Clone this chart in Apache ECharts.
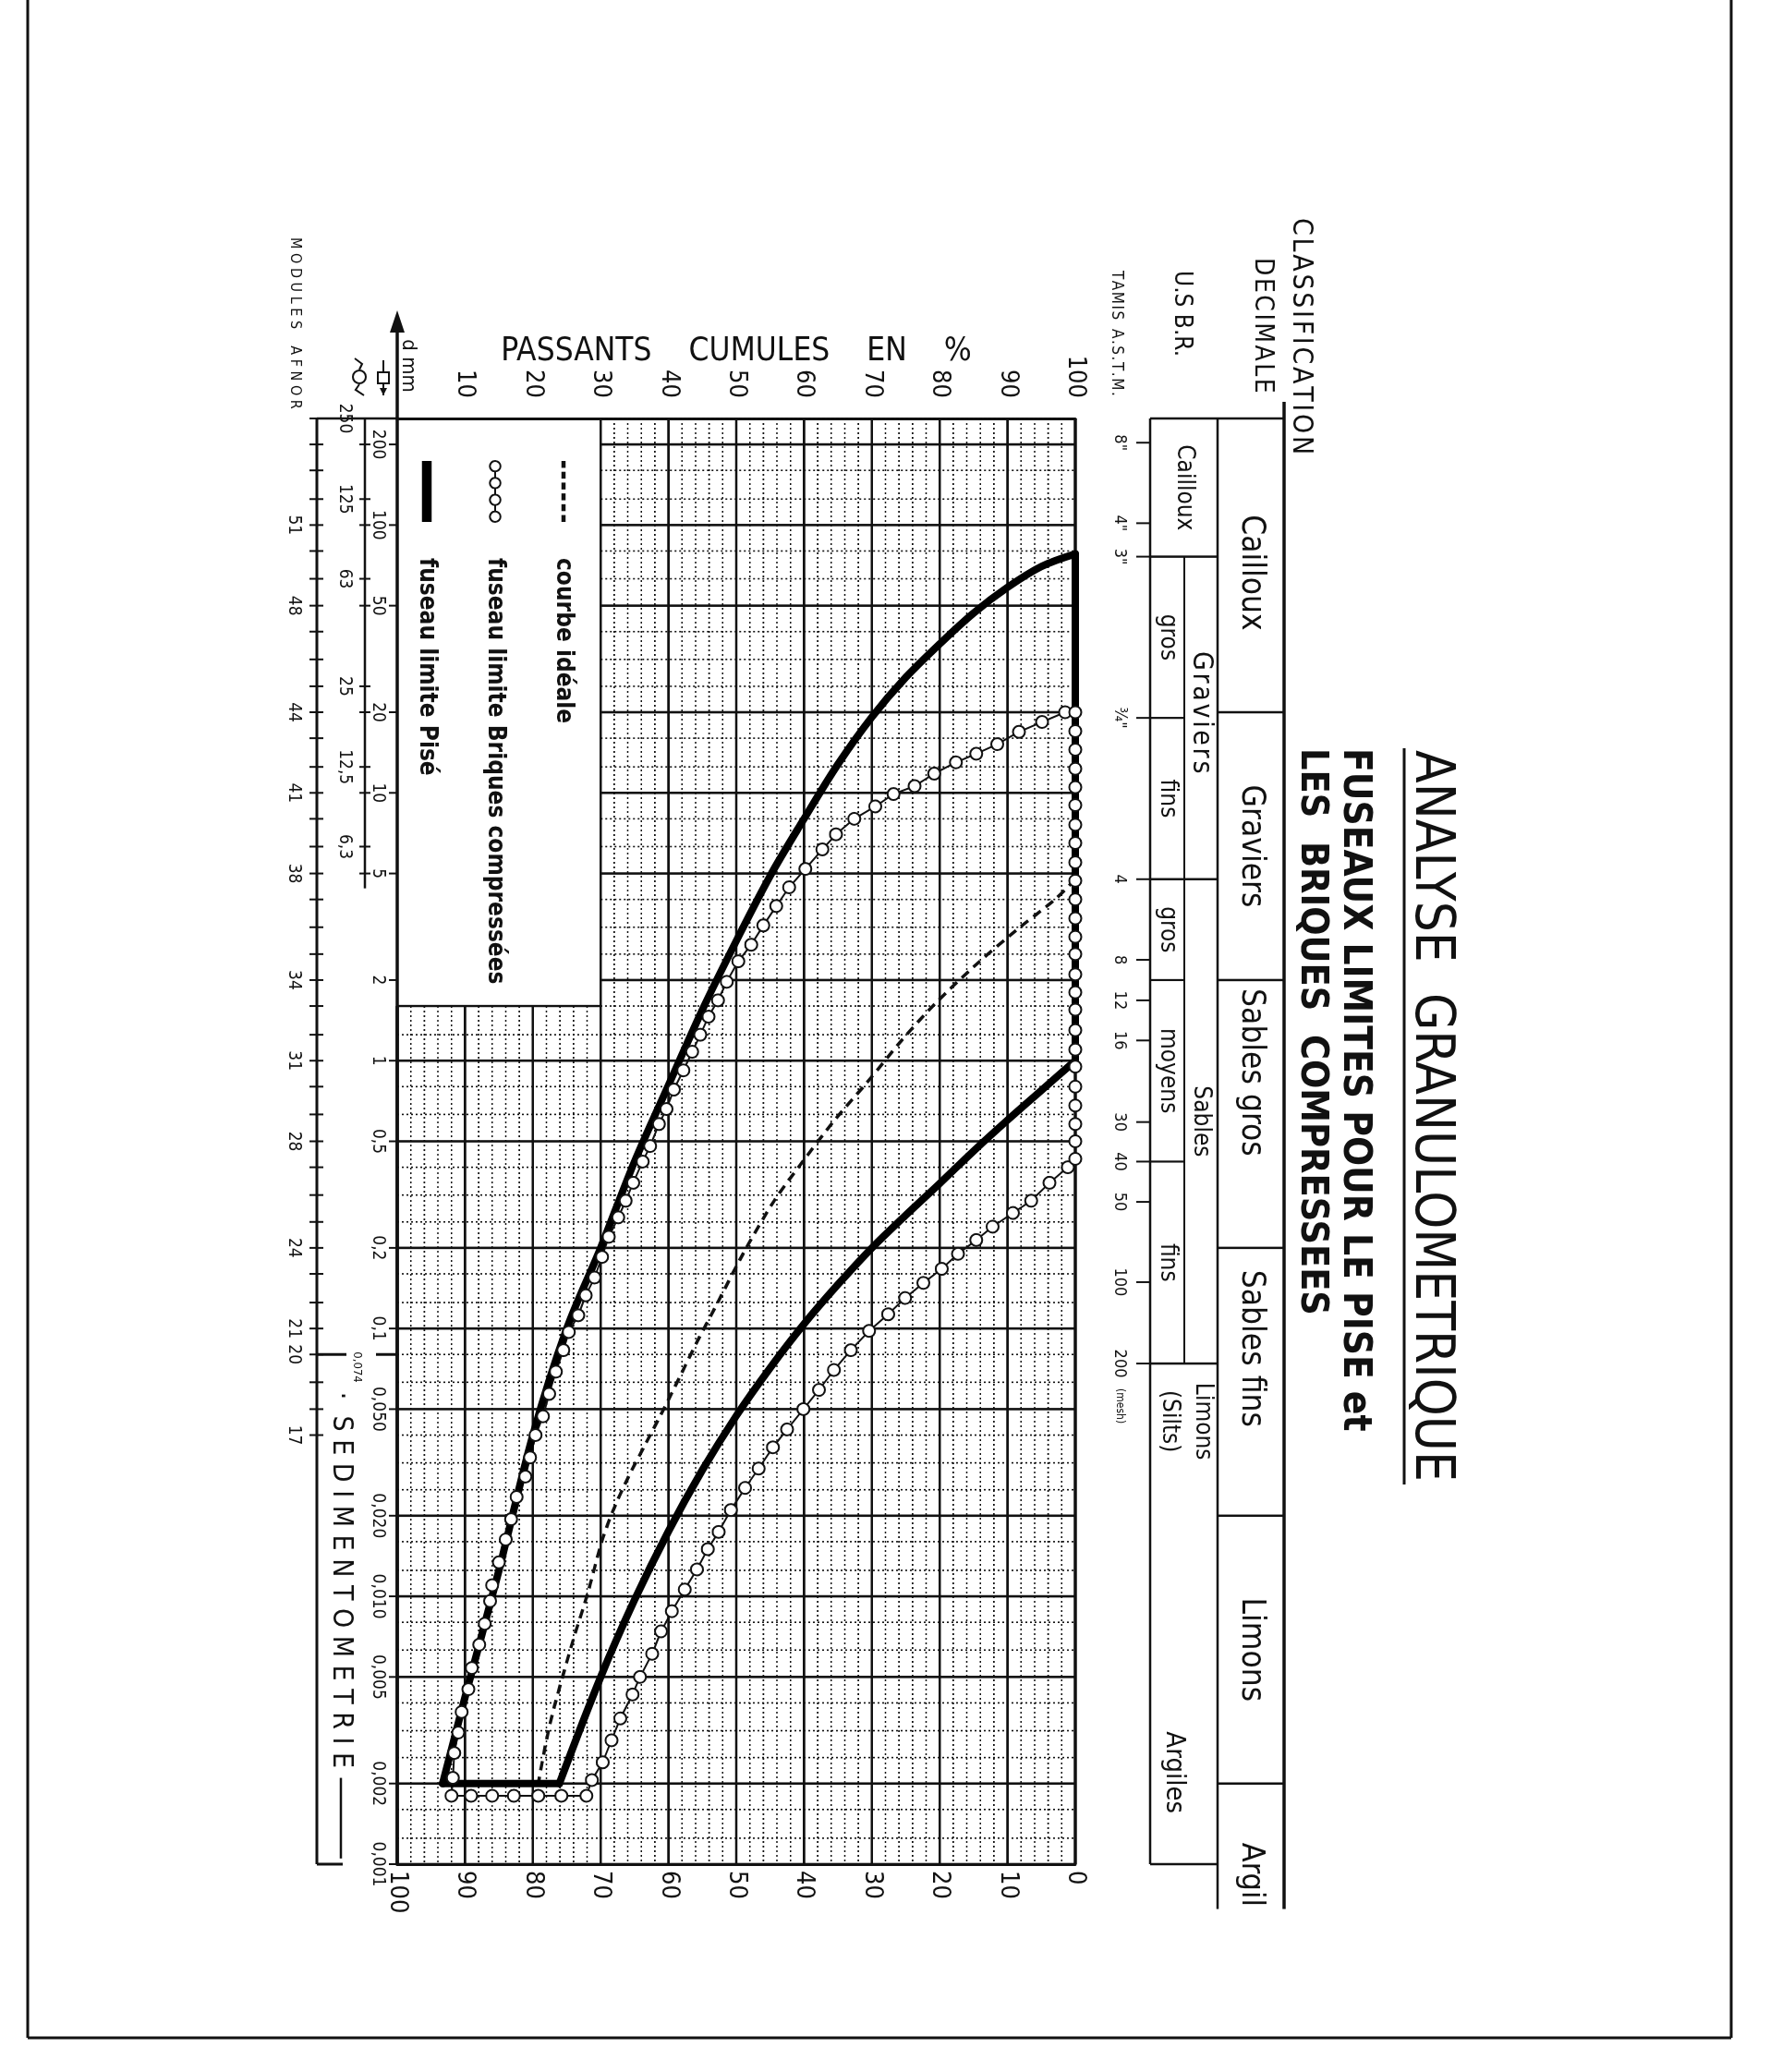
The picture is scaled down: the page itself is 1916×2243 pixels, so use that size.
<!DOCTYPE html>
<html><head><meta charset="utf-8">
<script src="https://cdn.jsdelivr.net/npm/echarts/dist/echarts.min.js"></script>
<style>
html,body{margin:0;padding:0;background:#fff;width:1916px;height:2243px;overflow:hidden}
#chart{position:absolute;left:0;top:0;width:2243px;height:1916px;transform-origin:0 0;transform:translateX(1916px) rotate(90deg);background:#fff}
</style></head><body><div id="chart"></div>
<script>
// ---------- DATA (pairs are [diameter mm, % passing]) ----------
const gridPercents = [0,2,4,6,8,10,12,14,16,18,20,22,24,26,28,30,32,34,36,38,40,42,44,46,48,50,52,54,56,58,60,62,64,66,68,70,72,74,76,78,80,82,84,86,88,90,92,94,96,98,100];
const gridDiameters = [250,200,160,125,100,80,63,50,40,31.5,25,20,16,12.5,10,8,6.3,5,4,3.15,2.5,2,1.6,1.25,1,0.8,0.63,0.5,0.4,0.315,0.25,0.2,0.16,0.125,0.1,0.08,0.063,0.05,0.04,0.0315,0.025,0.02,0.016,0.0125,0.01,0.008,0.0063,0.005,0.004,0.00315,0.0025,0.002,0.0016,0.00125,0.001];
const dLabelValues = [200,100,50,20,10,5,2,1,0.5,0.2,0.1,0.05,0.02,0.01,0.005,0.002,0.001];
const dLabelTexts = ['200','100','50','20','10','5','2','1','0,5','0,2','0,1','0,050','0,020','0,010','0,005','0,002','0,001'];
const passoireD = [250,125,63,25,12.5,6.3];
const passoireTexts = ['250','125','63','25','12,5','6,3'];
const tamisD = [200,100,50,20,10,5];
const moduleD = [100,50,20,10,5,2,1,0.5,0.2,0.1,0.08,0.04];
const moduleTexts = ['51','48','44','41','38','34','31','28','24','21','20','17'];
const moduleTickD = [250,200,160,125,100,80,63,50,40,31.5,25,20,16,12.5,10,8,6.3,5,4,3.15,2.5,2,1.6,1.25,1,0.8,0.63,0.5,0.4,0.315,0.25,0.2,0.16,0.125,0.1,0.08,0.063,0.05,0.04];
const astmD = [203,101.6,76.2,19.05,4.76,2.38,1.68,1.19,0.59,0.42,0.297,0.149,0.074];
const astmTexts = ['8"','4"','3"','¾"','4','8','12','16','30','40','50','100','200'];
const decimaleBounds = [250,20,2,0.2,0.02,0.002];
const decimaleNames = ['Cailloux','Graviers','Sables gros','Sables fins','Limons','Argil'];
const usbrBounds = [250,76.2,4.76,0.074,0.001];
const usbrNames = ['Cailloux','Graviers','Sables',''];
const usbrSubBounds = [76.2,19.05,4.76,2,0.42,0.074];
const usbrSubNames = ['gros','fins','gros','moyens','fins'];

const piseCoarse = [[78,100],[70,95],[58.5,90],[46.9,85],[36,80],[27,75],[19.2,70],[12.8,65],[8,60],[4.9,55],[2.8,50],[1.55,45],[0.81,40],[0.42,35],[0.2,30],[0.1,25],[0.04,20],[0.0125,15],[0.0042,10],[0.002,6.7]];
const piseBottom = [[0.002,6.7],[0.002,23.9]];
const piseFine = [[0.002,23.9],[0.005,30],[0.0097,35],[0.0175,40],[0.0296,45],[0.0472,50],[0.0713,55],[0.104,60],[0.146,65],[0.2,70],[0.265,75],[0.348,80],[0.46,85],[0.6,90],[0.775,95],[1,100]];
const piseRight = [[1,100],[78,100]];

const briquesCoarse = [[20,98.5],[18.4,95.1],[16.9,91.7],[15.2,88.5],[14,85.4],[13,82.4],[11.8,79.2],[10.6,76.3],[9.9,73.2],[8.9,70.5],[8,67.4],[7,64.7],[6.15,62.7],[5.2,60.2],[4.44,57.8],[3.78,55.9],[3.2,54],[2.71,52.2],[2.35,50.3],[1.97,48.6],[1.68,47.3],[1.46,45.9],[1.25,44.7],[1.08,43.5],[0.92,42.2],[0.78,40.8],[0.66,39.7],[0.58,38.6],[0.48,37.3],[0.42,36.2],[0.35,34.8],[0.3,33.7],[0.26,32.6],[0.22,31.2],[0.185,30.2],[0.155,29.1],[0.133,27.8],[0.112,26.7],[0.097,25.3],[0.083,24.5],[0.069,23.4],[0.057,22.4],[0.047,21.5],[0.04,20.4],[0.033,19.6],[0.028,18.9],[0.0235,17.6],[0.0194,16.8],[0.0163,16],[0.0134,15],[0.011,14],[0.0096,13.7],[0.0079,12.9],[0.0066,12.1],[0.0054,11],[0.0045,10.5],[0.0037,9.5],[0.0031,9],[0.0026,8.4],[0.0021,8.2]];
const briquesBottom = [[0.0018,8],[0.0018,10.9],[0.0018,14],[0.0018,17.2],[0.0018,20.8],[0.0018,24.2],[0.0018,27.9]];
const briquesFine = [[0.00206,28.7],[0.0024,30.3],[0.0029,31.6],[0.0035,32.9],[0.0043,34.7],[0.005,35.8],[0.0061,37.6],[0.0074,38.9],[0.0088,40.5],[0.0106,42.4],[0.0126,44.2],[0.015,45.8],[0.0174,47.4],[0.021,49.2],[0.0254,51.3],[0.03,53.3],[0.036,55.4],[0.042,57.5],[0.05,59.9],[0.059,62.2],[0.07,64.4],[0.083,66.9],[0.098,69.6],[0.113,72.4],[0.13,74.9],[0.148,77.6],[0.167,80.3],[0.19,82.7],[0.214,85.4],[0.24,87.8],[0.27,90.8],[0.3,93.5],[0.35,96.2],[0.4,98.9]];
const briquesRight = [[0.43,100],[0.5,100],[0.58,100],[0.68,100],[0.8,100],[0.95,100],[1.1,100],[1.3,100],[1.55,100],[1.8,100],[2.1,100],[2.5,100],[2.9,100],[3.4,100],[4,100],[4.7,100],[5.5,100],[6.5,100],[7.6,100],[9,100],[10.5,100],[12.3,100],[14.5,100],[17,100],[20,100]];

const idealCurve = [[4.76,100],[4,97],[3.1,91.5],[2.3,85.5],[1.65,79.5],[1.2,74.5],[0.83,69.3],[0.6,64.5],[0.42,59.8],[0.3,55.6],[0.19,51],[0.12,46.9],[0.09,44.3],[0.067,41.8],[0.05,39.3],[0.037,36.6],[0.0276,34],[0.0208,31.8],[0.0158,30.1],[0.0105,28.2],[0.0068,25.9],[0.0039,23.2],[0.0029,22],[0.002,20.8]];

// ---------- STYLE ----------
const INK = '#111';
const F = "'Liberation Sans Narrow','DejaVu Sans Condensed','Arial Narrow',sans-serif";
const HS = '\u200A';
const spaced = s => s.split('').join(HS);
const NAME_IDEAL = 'courbe idéale', NAME_BRI = 'fuseau limite Briques compressées', NAME_PISE = 'fuseau limite Pisé';

function isMajor(d){
  const e = Math.floor(Math.log10(d) + 1e-9);
  const m = d / Math.pow(10, e);
  return Math.abs(m-1) < 0.01 || Math.abs(m-2) < 0.01 || Math.abs(m-5) < 0.01;
}
const DOT = {stroke:'#111', lineWidth:1.6, lineDash:[2,3]};

function renderDLine(params, api){
  const d = api.value(0);
  const bold = isMajor(d);
  const pStart = d > 1.7 ? 30 : 0;
  const a = api.coord([d, pStart]), b = api.coord([d, 100]);
  const ch = [{type:'line', shape:{x1:a[0],y1:a[1],x2:b[0],y2:b[1]},
    style: bold ? {stroke:INK, lineWidth:2.6} : DOT}];
  if (Math.abs(d-1.6) < 1e-6){
    const c = api.coord([d,0]), e = api.coord([d,30]);
    ch.push({type:'line', shape:{x1:c[0],y1:c[1],x2:e[0],y2:e[1]}, style:{stroke:INK, lineWidth:2.4}});
  }
  return {type:'group', children:ch};
}
function renderPLine(params, api){
  const p = api.value(1);
  const dStart = p < 30 ? 1.6 : 250;
  const a = api.coord([dStart, p]), b = api.coord([0.001, p]);
  const bold = p % 10 === 0;
  return {type:'line', shape:{x1:a[0],y1:a[1],x2:b[0],y2:b[1]},
    style: bold ? {stroke:INK, lineWidth: (p===100||p===0) ? 3.5 : 2.6} : DOT};
}
function renderDecor(params, api){
  const U = d => api.coord([d, 50])[0];
  const ch = [];
  const ln = (x1,y1,x2,y2,w,dash) => ch.push({type:'line', shape:{x1,y1,x2,y2}, style:{stroke:INK, lineWidth:w||2, lineDash:dash||null}});
  const tx = (x,y,text,size,extra) => ch.push({type:'text', x, y, style:Object.assign({text, font:size+'px '+F, fill:INK, align:'center', verticalAlign:'middle'}, extra||{})});
  // Decimale row
  const uCut = U(0.00068);
  ln(U(250)-18, 526, uCut, 526, 3.5);
  ln(U(250), 598, uCut, 598, 2.5);
  decimaleBounds.forEach(d => ln(U(d),526,U(d),598,2.5));
  const decShift = [8,0,-45,-36,0,0];
  decimaleNames.forEach((n,i) => {
    if (i < decimaleBounds.length-1) tx((U(decimaleBounds[i])+U(decimaleBounds[i+1]))/2 + decShift[i], 562, n, 35);
    else tx(U(decimaleBounds[i])+64, 562, n, 34, {align:'left'});
  });
  // U.S.B.R. row
  ln(U(250), 671, U(0.001), 671, 2.5);
  usbrBounds.forEach(d => ln(U(d),598,U(d),671,2.5));
  ln(U(76.2), 634, U(0.074), 634, 2.2);
  [19.05,2,0.42].forEach(d => ln(U(d),634,U(d),671,2.2));
  tx((U(250)+U(76.2))/2, 634, usbrNames[0], 26);
  tx((U(76.2)+U(4.76))/2 - 6, 616, spaced(usbrNames[1]), 30);
  tx((U(4.76)+U(0.074))/2, 616, usbrNames[2], 26);
  usbrSubNames.forEach((n,i) => tx((U(usbrSubBounds[i])+U(usbrSubBounds[i+1]))/2, 652, n, 26));
  tx(U(0.045), 614, 'Limons', 26);
  tx(U(0.045), 650, '(Silts)', 26);
  tx(U(0.0022), 645, 'Argiles', 29);
  // A.S.T.M. sieves
  astmD.forEach((d,i) => { ln(U(d),671,U(d),686,2); tx(U(d),704,astmTexts[i],18); });
  tx(U(0.074)+46, 704, '(mesh)', 12);
  // d mm labels and ticks below the axis
  dLabelValues.forEach((d,i) => { ln(U(d),1486,U(d),1495,2); tx(U(d),1507,dLabelTexts[i],19); });
  tx(U(0.074)+4, 1530, '0,074', 13);
  // AFNOR inner scale
  ln(U(250), 1521, U(4.4), 1521, 2.5);
  tamisD.forEach(d => ln(U(d),1515,U(d),1527,2));
  passoireD.forEach((d,i) => { ln(U(d),1515,U(d),1527,2); tx(U(d),1543,passoireTexts[i],19); });
  // AFNOR outer scale (modules)
  ln(U(250), 1486, U(250), 1573, 2.5);
  ln(U(250), 1573, U(0.001), 1573, 3);
  moduleTickD.forEach(d => ln(U(d),1566,U(d),1581,2));
  moduleD.forEach((d,i) => tx(U(d),1598,moduleTexts[i],19));
  ln(U(0.08),1541,U(0.08),1573,3);
  ln(U(0.08),1486,U(0.08),1509,3);
  ln(U(0.001),1545,U(0.001),1573,3);
  tx(U(0.058), 1547, '·  S E D I M E N T O M E T R I E', 30, {align:'left'});
  ln(U(0.0021), 1547, U(0.00105), 1547, 2.5);
  return {type:'group', children:ch};
}

const legendDash = 'path://M0,0h7v4h-7z M11,0h7v4h-7z M22,0h7v4h-7z M33,0h7v4h-7z M44,0h7v4h-7z M55,0h7v4h-7z';
const legendRings = 'path://M1,6a5,5 0 1,0 10,0a5,5 0 1,0 -10,0z M11,6L17,6 M17,6a5,5 0 1,0 10,0a5,5 0 1,0 -10,0z M27,6L33,6 M33,6a5,5 0 1,0 10,0a5,5 0 1,0 -10,0z M43,6L49,6 M49,6a5,5 0 1,0 10,0a5,5 0 1,0 -10,0z';
const legendBar = 'path://M0,0h64v10h-64z';

const lineBase = {type:'line', xAxisIndex:0, yAxisIndex:0, animation:false, z:5};
const piseStyle = {color:'#000', width:8, cap:'round', join:'round'};
const txt = (x,y,text,font,align) => ({type:'text', x, y, style:{text, font, fill:INK, align:align||'left', verticalAlign:'middle'}});

const option = {
  backgroundColor:'#fff',
  animation:false,
  grid:{left:453, right:225, top:752, bottom:430, containLabel:false},
  xAxis:{type:'log', logBase:10, inverse:true, min:0.001, max:250,
    axisLine:{show:true, lineStyle:{color:INK, width:3.5}}, axisTick:{show:false}, axisLabel:{show:false}, splitLine:{show:false}},
  yAxis:[
    {type:'value', min:0, max:100, interval:10, position:'left',
     name:'PASSANTS    CUMULES    EN    %', nameLocation:'middle', nameRotate:90, nameGap:55, nameMoveOverlap:false,
     nameTextStyle:{fontFamily:F, fontSize:35, color:INK},
     axisLine:{show:true, lineStyle:{color:INK, width:3}}, axisTick:{show:false},
     axisLabel:{fontFamily:F, fontSize:27, color:INK, margin:22, formatter: v => v === 0 ? '' : String(v)},
     splitLine:{show:false}},
    {type:'value', min:0, max:100, interval:10, position:'right', inverse:true,
     axisLine:{show:true, lineStyle:{color:INK, width:3}}, axisTick:{show:false},
     axisLabel:{fontFamily:F, fontSize:27, color:INK, margin:7},
     splitLine:{show:false}}
  ],
  legend:{orient:'vertical', left:493, top:1288, itemWidth:66, itemHeight:22, itemGap:48,
    selectedMode:false,
    textStyle:{fontFamily:F, fontSize:26, fontWeight:'bold', color:INK, padding:[0,0,0,34]},
    data:[
      {name:NAME_IDEAL, icon:legendDash, itemStyle:{color:INK, borderWidth:0}},
      {name:NAME_BRI, icon:legendRings, itemStyle:{color:'#fff', borderColor:INK, borderWidth:2}},
      {name:NAME_PISE, icon:legendBar, itemStyle:{color:'#000', borderWidth:0}}
    ]},
  graphic:{elements:[
    {type:'line', shape:{x1:0,y1:42,x2:2206,y2:42}, style:{stroke:INK, lineWidth:3}},
    {type:'line', shape:{x1:0,y1:1886,x2:2206,y2:1886}, style:{stroke:INK, lineWidth:3}},
    {type:'line', shape:{x1:2206,y1:42,x2:2206,y2:1886}, style:{stroke:INK, lineWidth:3}},
    {type:'text', x:1208, y:368, style:{text:'ANALYSE  GRANULOMETRIQUE', font:'58px '+F, fill:INK, align:'center', verticalAlign:'middle'}},
    {type:'line', shape:{x1:810,y1:396,x2:1607,y2:396}, style:{stroke:INK, lineWidth:3}},
    txt(810, 450, 'FUSEAUX LIMITES POUR LE PISE et', 'bold 42px '+F),
    txt(810, 496, 'LES  BRIQUES  COMPRESSEES', 'bold 41px '+F),
    txt(236, 508, spaced('CLASSIFICATION'), '30px '+F),
    txt(279, 550, spaced('DECIMALE'), '28px '+F),
    txt(293, 637, 'U.S B.R.', '26px '+F),
    txt(293, 708, spaced('TAMIS') + '  ' + spaced('A.S.T.M.'), '17px '+F),
    txt(257, 1597, 'M O D U L E S    A F N O R', '16px '+F),
    {type:'text', x:396, y:1474, style:{text:'d mm', font:'22px '+F, fill:INK, align:'center', verticalAlign:'middle'}},
    {type:'line', shape:{x1:352,y1:1486,x2:453,y2:1486}, style:{stroke:INK, lineWidth:3.5}},
    {type:'polygon', shape:{points:[[336,1486],[360,1478],[360,1494]]}, style:{fill:INK}},
    {type:'line', shape:{x1:390,y1:1501,x2:428,y2:1501}, style:{stroke:INK, lineWidth:2}},
    {type:'rect', shape:{x:403,y:1495,width:12,height:12}, style:{fill:'#fff', stroke:INK, lineWidth:2}},
    {type:'polygon', shape:{points:[[428,1501],[420,1497],[420,1505]]}, style:{fill:INK}},
    {type:'polyline', shape:{points:[[388,1532],[394,1524],[400,1527]]}, style:{stroke:INK, lineWidth:2, fill:null}},
    {type:'circle', shape:{cx:408,cy:1527,r:7}, style:{fill:'#fff', stroke:INK, lineWidth:2}},
    {type:'polyline', shape:{points:[[416,1527],[422,1531],[428,1522]]}, style:{stroke:INK, lineWidth:2, fill:null}}
  ]},
  series:[
    {type:'custom', name:'grid-d', renderItem:renderDLine, data:gridDiameters.map(d=>[d,50]), silent:true, z:1, animation:false},
    {type:'custom', name:'grid-p', renderItem:renderPLine, data:gridPercents.map(p=>[1,p]), silent:true, z:1, animation:false},
    {type:'custom', name:'decor', renderItem:renderDecor, data:[[1,50]], silent:true, z:2, animation:false},
    Object.assign({}, lineBase, {name:NAME_IDEAL, data:idealCurve, smooth:0.3, symbol:'none', lineStyle:{color:INK, width:3.5, type:[10,7]}}),
    Object.assign({}, lineBase, {name:NAME_BRI, data:briquesCoarse.concat(briquesBottom, briquesFine, briquesRight), symbol:'emptyCircle', symbolSize:13,
      itemStyle:{color:INK, borderWidth:2}, lineStyle:{color:INK, width:2}}),
    Object.assign({}, lineBase, {name:NAME_PISE, data:piseCoarse, smooth:0.35, symbol:'none', lineStyle:piseStyle}),
    Object.assign({}, lineBase, {name:NAME_PISE, data:piseBottom, symbol:'none', lineStyle:piseStyle}),
    Object.assign({}, lineBase, {name:NAME_PISE, data:piseFine, smooth:0.35, symbol:'none', lineStyle:piseStyle}),
    Object.assign({}, lineBase, {name:NAME_PISE, data:piseRight, symbol:'none', lineStyle:piseStyle})
  ]
};
const chart = echarts.init(document.getElementById('chart'), null, {renderer:'canvas'});
chart.setOption(option);
</script></body></html>
